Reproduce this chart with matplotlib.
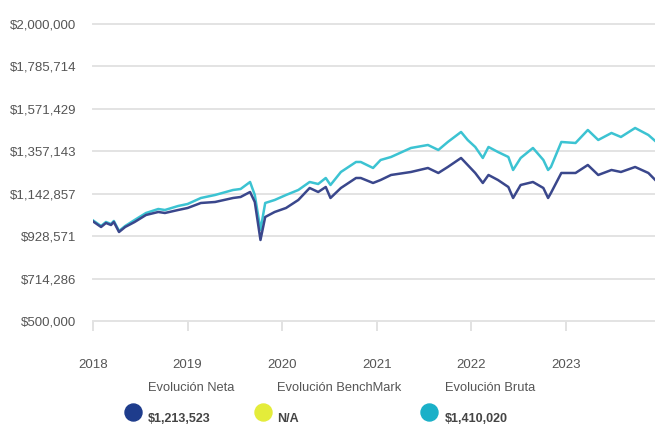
import matplotlib
matplotlib.use("Agg")
import matplotlib.pyplot as plt

plt.rcParams['font.family'] = ['Liberation Sans', 'DejaVu Sans']

# fechas en años decimales
years_neta = [2018.00, 2018.085, 2018.137, 2018.19, 2018.22, 2018.275, 2018.34, 2018.44,
              2018.56, 2018.69, 2018.76, 2018.90, 2019.00, 2019.14, 2019.29, 2019.48,
              2019.56, 2019.66, 2019.71, 2019.77, 2019.82, 2019.92, 2020.04, 2020.17,
              2020.29, 2020.38, 2020.46, 2020.51, 2020.62, 2020.78, 2020.83, 2020.96,
              2021.04, 2021.15, 2021.36, 2021.54, 2021.65, 2021.75, 2021.89, 2021.96,
              2022.04, 2022.12, 2022.18, 2022.28, 2022.39, 2022.44, 2022.52, 2022.65,
              2022.76, 2022.81, 2022.84, 2022.95, 2023.10, 2023.23, 2023.34, 2023.48,
              2023.58, 2023.73, 2023.87, 2023.94]

neta = [1003000, 974750, 994950, 984850, 1000000, 949500, 974750, 1000000,
        1035350, 1050500, 1045450, 1060600, 1070700, 1095950, 1101000, 1121200,
        1126250, 1151500, 1101000, 909100, 1025250, 1050500, 1070700, 1111100,
        1171700, 1151500, 1176750, 1121200, 1171700, 1222200, 1222200, 1197000,
        1212100, 1237400, 1252500, 1272700, 1247500, 1277800, 1323250, 1287900,
        1247500, 1197000, 1237400, 1212100, 1176750, 1121200, 1186850, 1202000,
        1171700, 1121200, 1146450, 1247500, 1247500, 1287900, 1237400, 1262650,
        1252500, 1277800, 1247500, 1213523]

bruta = [1008000, 979800, 1000000, 989900, 1005050, 954550, 979800, 1010100,
         1045450, 1065650, 1060600, 1080800, 1090900, 1121200, 1136350, 1161600,
         1166650, 1202000, 1136350, 959600, 1095950, 1111100, 1136350, 1161600,
         1202000, 1191900, 1222200, 1186850, 1252500, 1303050, 1303050, 1272750,
         1313150, 1328300, 1373750, 1388900, 1363650, 1404050, 1454550, 1414150,
         1378800, 1323250, 1378800, 1353550, 1328300, 1262650, 1323250, 1373750,
         1313150, 1262650, 1277800, 1404050, 1399000, 1464650, 1414150, 1449500,
         1429300, 1474750, 1439400, 1410020]

y_ticks = [500000, 714286, 928571, 1142857, 1357143, 1571429, 1785714, 2000000]
x_ticks = [2018, 2019, 2020, 2021, 2022, 2023]

legend_labels = ["Evolución Neta", "Evolución BenchMark", "Evolución Bruta"]
legend_values = ["$1,213,523", "N/A", "$1,410,020"]
legend_colors = ['#1e3c8c', '#e4ec3a', '#1ab0c8']

fig = plt.figure(figsize=(6.55, 4.28), dpi=100)
ax = fig.add_axes([0.142, 0.25, 0.858, 0.694])

ax.plot(years_neta, bruta, color='#3cc3d2', lw=1.8, zorder=3)
ax.plot(years_neta, neta, color='#3a478c', lw=1.8, zorder=4)

ax.set_xlim(2018.0, 2023.94)
ax.set_ylim(500000, 2000000)
ax.set_yticks(y_ticks)
ax.set_yticklabels([f"${v:,}" for v in y_ticks])
ax.set_xticks(x_ticks)
ax.set_xticklabels([str(v) for v in x_ticks])

for s in ax.spines.values():
    s.set_visible(False)
ax.grid(axis='y', color='#e3e3e3', lw=1.4)
for gl in ax.get_ygridlines():
    gl.set_clip_on(False)
ax.set_axisbelow(True)

ax.tick_params(axis='y', length=0, pad=12, labelsize=9.5, labelcolor='#555555')
ax.tick_params(axis='x', length=7, width=1.2, color='#dddddd', pad=20,
               labelsize=9.5, labelcolor='#555555')

# leyenda inferior
label_x = [0.226, 0.423, 0.679]
dot_x = [0.203, 0.402, 0.655]
for i in range(3):
    fig.text(label_x[i], 0.093, legend_labels[i], fontsize=9.3, color='#555555',
             va='center', ha='left')
    fig.text(label_x[i], 0.02, legend_values[i], fontsize=9, color='#444444',
             fontweight='bold', va='center', ha='left')
    ax.scatter([dot_x[i]], [0.037], s=150, color=legend_colors[i],
               transform=fig.transFigure, clip_on=False, zorder=5)

fig.savefig("out.png", dpi=100)
